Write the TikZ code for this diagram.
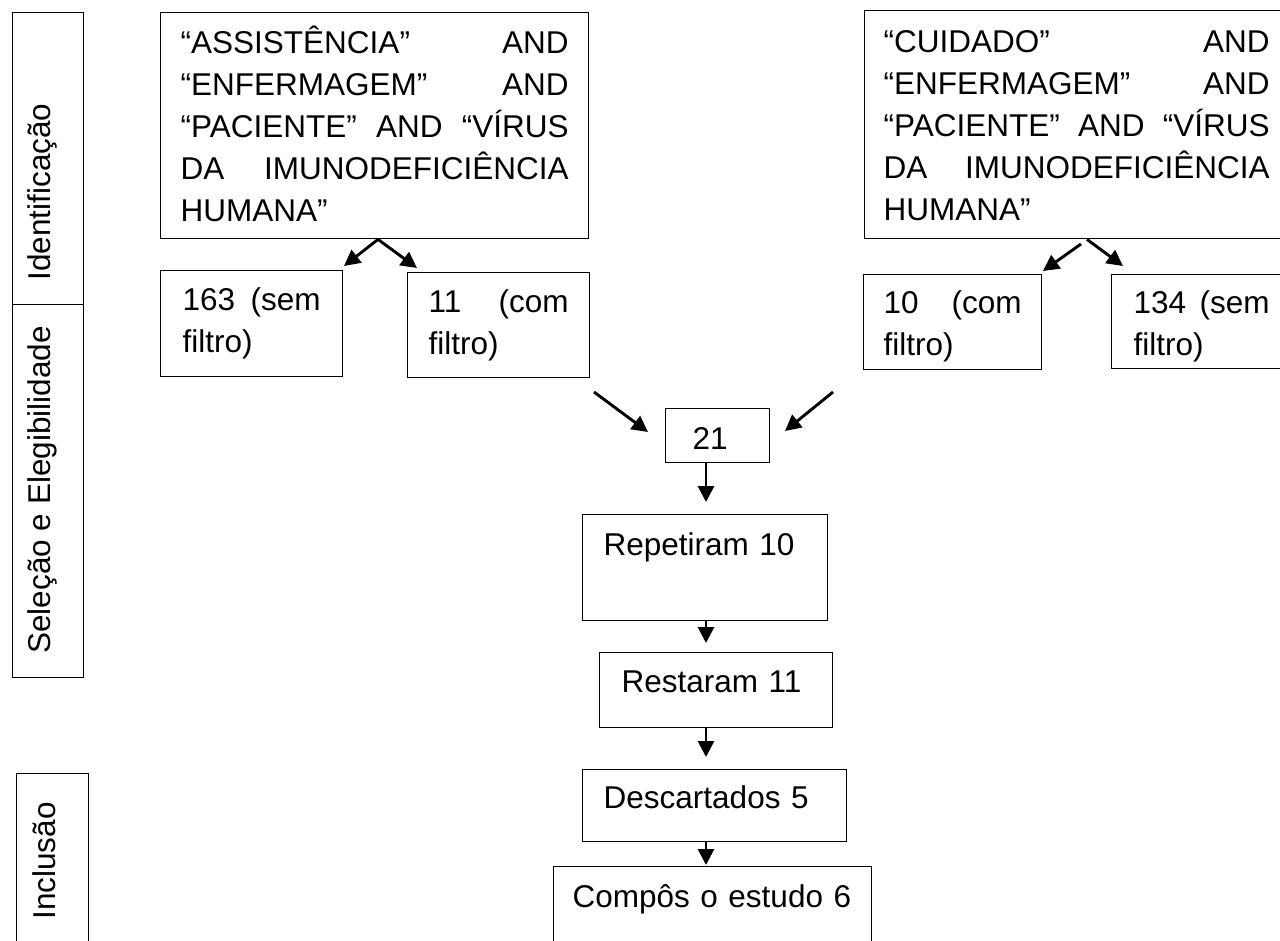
\documentclass[tikz,border=0pt]{standalone}
\usepackage{fontspec}
\setmainfont{Liberation Sans}[Ligatures=NoCommon]
\usetikzlibrary{arrows.meta}
\tikzset{
  box/.style={draw, line width=1.4pt, inner ysep=0pt, align=left, anchor=north west,
    font=\fontsize{31.5}{42}\selectfont},
  colbox/.style={draw, line width=1.4pt, inner sep=0pt, anchor=north west},
  coltext/.style={rotate=90, anchor=base, inner sep=0pt, font=\fontsize{31.5}{42}\selectfont},
  arr/.style={line width=2.9pt, -{Triangle[length=16pt,width=16pt]}},
}
\begin{document}
\begin{tikzpicture}[x=1pt,y=-1pt]
\useasboundingbox (0,0) rectangle (1280,941);
\clip (0,0) rectangle (1280,941);
% left column
\node[colbox, minimum width=71pt, minimum height=292pt] (idbox) at (12,12) {};
\node[colbox, minimum width=71pt, minimum height=373pt] (selbox) at (12,304) {};
\node[colbox, minimum width=72pt, minimum height=230pt] (incbox) at (16,773) {};
\node[coltext] (idtxt) at (50,192) {Identificação};
\node[coltext] (seltxt) at (50,490) {Seleção e Elegibilidade};
\node[coltext] (inctxt) at (55,861) {Inclusão};
% search boxes
\node[box, inner xsep=20pt, text width=388pt, text height=41pt, text depth=185pt] (bigL) at (160,12)
 {“ASSISTÊNCIA”\hfill AND\\“ENFERMAGEM”\hfill AND\\“PACIENTE”\hfill AND\hfill “VÍRUS\\DA\hfill IMUNODEFICIÊNCIA\\HUMANA”};
\node[box, inner xsep=19pt, text width=386pt, text height=42pt, text depth=186pt] (bigR) at (864,10)
 {“CUIDADO”\hfill AND\\“ENFERMAGEM”\hfill AND\\“PACIENTE”\hfill AND\hfill “VÍRUS\\DA\hfill IMUNODEFICIÊNCIA\\HUMANA”};
% result boxes
\node[box, inner xsep=22pt, text width=138pt, text height=40pt, text depth=66pt] (b163) at (160,270) {163\hfill(sem\\filtro)};
\node[box, inner xsep=21pt, text width=140pt, text height=40pt, text depth=65pt] (b11) at (407,272) {11\hfill(com\\filtro)};
\node[box, inner xsep=20pt, text width=138pt, text height=39pt, text depth=56pt] (b10) at (863,274) {10\hfill(com\\filtro)};
\node[box, inner xsep=22pt, text width=136pt, text height=39pt, text depth=55pt] (b134) at (1111,274) {134\hfill(sem\\filtro)};
% flow
\node[box, inner xsep=27pt, text width=50pt, text height=41pt, text depth=13pt] (b21) at (665,408) {21};
\node[box, inner xsep=21pt, text width=203pt, text height=41pt, text depth=65pt] (rep) at (582,514) {Repetiram 10};
\node[box, inner xsep=22pt, text width=189pt, text height=40pt, text depth=35pt] (rest) at (599,652) {Restaram 11};
\node[box, inner xsep=21pt, text width=222pt, text height=39pt, text depth=33pt] (desc) at (582,769) {Descartados 5};
\node[box, inner xsep=19pt, text width=280pt, text height=41pt, text depth=80pt] (comp) at (553,866) {Compôs o estudo 6};
% arrow coordinates
\coordinate (aL0) at (378,238);
\coordinate (aL1) at (344,266);
\coordinate (aL2) at (417,268);
\coordinate (aR0a) at (1081,244);
\coordinate (aR0b) at (1087,239);
\coordinate (aR1) at (1043,271);
\coordinate (aR2) at (1123,266);
\coordinate (c1) at (594,392);
\coordinate (c2) at (648,432);
\coordinate (c3) at (833,392);
\coordinate (c4) at (785,431);
\coordinate (t1) at (706,502);
\coordinate (t2) at (706,643);
\coordinate (t3) at (706,757);
\coordinate (t4) at (706,865);
% arrows
\draw[arr] (bigL.south -| aL0) -- (aL1);
\draw[arr] (bigL.south -| aL0) -- (aL2);
\draw[arr] (aR0a) -- (aR1);
\draw[arr] (bigR.south -| aR0b) -- (aR2);
\draw[arr] (c1) -- (c2);
\draw[arr] (c3) -- (c4);
\draw[arr] (b21.south -| t1) -- (t1);
\draw[arr] (rep.south -| t2) -- (t2);
\draw[arr] (rest.south -| t3) -- (t3);
\draw[arr] (desc.south -| t4) -- (t4);
\end{tikzpicture}
\end{document}
